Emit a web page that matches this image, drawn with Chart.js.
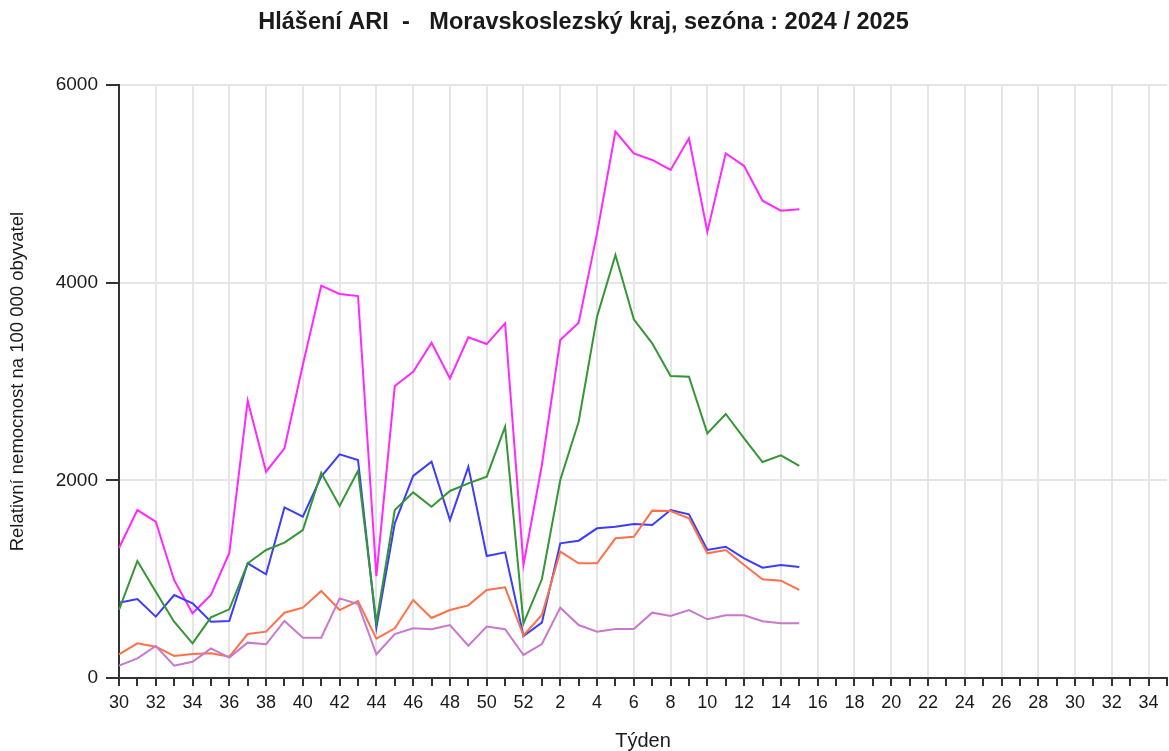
<!DOCTYPE html>
<html>
<head>
<meta charset="utf-8">
<script src="https://cdn.jsdelivr.net/npm/chart.js@4/dist/chart.umd.min.js"></script>
<style>
  html, body { margin: 0; padding: 0; background: #fff; }
  #wrap { width: 1169px; height: 751px; position: relative; }
</style>
</head>
<body>
<div id="wrap"><canvas id="ari"></canvas></div>
<script>
// weeks of the season 2024/2025 (30..52, then 1..35)
const weeks = [30, 31, 32, 33, 34, 35, 36, 37, 38, 39, 40, 41, 42, 43, 44, 45, 46, 47, 48, 49, 50, 51, 52,
  1, 2, 3, 4, 5, 6, 7, 8, 9, 10, 11, 12, 13, 14, 15, 16, 17, 18, 19, 20, 21, 22, 23, 24, 25, 26, 27, 28,
  29, 30, 31, 32, 33, 34, 35];

// relative morbidity per 100 000 (weeks 30..52, 1..15)
const age0to5 = [1316, 1700, 1582, 990, 655, 840, 1265, 2807, 2088, 2325, 3170, 3971, 3887, 3866, 1030,
  2955, 3100, 3394, 3033, 3448, 3380, 3590, 1144,
  2156, 3421, 3597, 4500, 5530, 5310, 5243, 5142, 5462, 4517, 5310, 5182, 4831, 4730, 4744];
const age6to14 = [690, 1184, 874, 570, 351, 614, 695, 1161, 1296, 1370, 1498, 2078, 1741, 2098, 560,
  1700, 1879, 1734, 1893, 1970, 2038, 2544, 553,
  999, 2004, 2594, 3657, 4281, 3630, 3387, 3057, 3050, 2476, 2672, 2426, 2186, 2254, 2146];
const age15to24 = [762, 800, 621, 840, 756, 570, 577, 1161, 1050, 1727, 1633, 2038, 2264, 2206, 510,
  1566, 2045, 2190, 1599, 2139, 1235, 1272, 425,
  560, 1363, 1390, 1515, 1532, 1559, 1549, 1700, 1657, 1296, 1329, 1211, 1116, 1144, 1123];
const age25to64 = [240, 351, 317, 223, 243, 250, 216, 445, 469, 661, 712, 881, 688, 779, 398,
  503, 789, 607, 688, 735, 891, 918, 432,
  638, 1279, 1161, 1161, 1414, 1430, 1694, 1690, 1616, 1262, 1296, 1144, 999, 985, 891];
const age65plus = [125, 199, 324, 125, 165, 300, 206, 358, 341, 577, 408, 408, 806, 749, 240,
  445, 503, 493, 536, 327, 520, 493, 233,
  344, 712, 536, 469, 496, 496, 661, 627, 688, 594, 634, 634, 574, 553, 553];

const yTicks = [0, 2000, 4000, 6000];

const FONT = "'Liberation Sans', Arial, sans-serif";
const TXT = '#1a1a1a';

function line(label, data, color) {
  return {
    label: label,
    data: data,
    borderColor: color,
    backgroundColor: color,
    borderWidth: 2,
    pointRadius: 0,
    tension: 0,
    fill: false
  };
}

new Chart(document.getElementById('ari'), {
  type: 'line',
  data: {
    labels: weeks,
    datasets: [
      line('65+', age65plus, 'rgb(200,120,205)'),
      line('25-64', age25to64, 'rgb(255,112,72)'),
      line('6-14', age6to14, 'rgb(52,150,52)'),
      line('15-24', age15to24, 'rgb(60,60,255)'),
      line('0-5', age0to5, 'rgb(255,40,255)')
    ]
  },
  options: {
    responsive: true,
    maintainAspectRatio: false,
    animation: false,
    layout: { padding: { left: 0, right: 2, top: 0, bottom: 0 } },
    plugins: {
      legend: { display: false },
      tooltip: { enabled: false },
      title: {
        display: true,
        text: 'Hlášení ARI  -   Moravskoslezský kraj, sezóna : 2024 / 2025',
        color: TXT,
        font: { family: FONT, size: 23.5, weight: 'bold' },
        padding: { top: 8, bottom: 49 }
      }
    },
    scales: {
      x: {
        type: 'category',
        offset: false,
        border: { display: true, color: '#333', width: 2 },
        grid: {
          color: ctx => (ctx.index % 2 === 0 ? '#e6e6e6' : 'rgba(0,0,0,0)'),
          lineWidth: 2,
          tickColor: '#333',
          tickWidth: 2,
          tickLength: 8
        },
        ticks: {
          autoSkip: false,
          maxRotation: 0,
          padding: 6,
          color: TXT,
          font: { family: FONT, size: 18 },
          callback: (v, i) => (i % 2 === 0 ? weeks[i] : '')
        },
        title: {
          display: true,
          text: 'Týden',
          color: TXT,
          font: { family: FONT, size: 20 },
          padding: { top: 4, bottom: -2 }
        },
        afterFit: s => {
          s.height = 73;
          s.paddingLeft = 0;
          s.paddingRight = 0;
        }
      },
      y: {
        min: 0,
        max: 6000,
        border: { display: true, color: '#333', width: 2 },
        grid: {
          color: '#e6e6e6',
          lineWidth: 2,
          tickColor: '#333',
          tickWidth: 2,
          tickLength: 13
        },
        ticks: {
          stepSize: 2000,
          padding: 8,
          color: TXT,
          font: { family: FONT, size: 19 },
          callback: v => (yTicks.includes(v) ? v : '')
        },
        title: {
          display: true,
          text: 'Relativní nemocnost na 100 000 obyvatel',
          color: TXT,
          font: { family: FONT, size: 18.5 },
          padding: { top: 7, bottom: 0 }
        },
        afterFit: s => { s.width = 119; }
      }
    }
  }
});
</script>
</body>
</html>
